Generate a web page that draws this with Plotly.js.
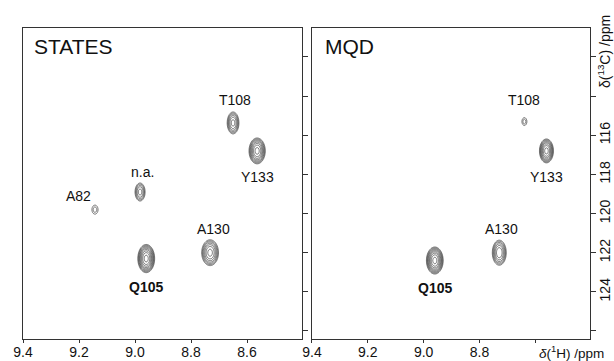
<!DOCTYPE html>
<html><head><meta charset="utf-8">
<script src="https://cdn.plot.ly/plotly-3.0.1.min.js"></script>
<style>html,body{margin:0;padding:0;background:#fff}#chart{width:614px;height:361px}</style>
</head><body><div id="chart"></div>
<script>
// ---- STATES panel peaks (1H ppm, 13C ppm, relative intensity, outer half-widths in ppm)
const statesLabels = ['T108', 'Y133', 'n.a.', 'A82', 'Q105', 'A130'];
const statesH = [8.650, 8.564, 8.982, 9.143, 8.960, 8.732];
const statesC = [115.37, 116.80, 118.90, 119.80, 122.30, 122.00];
const statesIntensity = [5.2, 9.5, 3.9, 1.6, 12.8, 7.0];
const statesWidthH = [0.021, 0.029, 0.018, 0.011, 0.030, 0.030];
const statesWidthC = [0.56, 0.66, 0.46, 0.23, 0.72, 0.66];

// ---- MQD panel peaks
const mqdLabels = ['T108', 'Y133', 'Q105', 'A130'];
const mqdH = [8.639, 8.560, 8.960, 8.729];
const mqdC = [115.30, 116.80, 122.40, 122.00];
const mqdIntensity = [1.6, 9.5, 12.8, 6.0];
const mqdWidthH = [0.009, 0.025, 0.030, 0.025];
const mqdWidthC = [0.20, 0.61, 0.69, 0.64];

// ---- axis ticks
const hTicks1 = [9.4, 9.2, 9.0, 8.8, 8.6];
const hTicks2 = [9.4, 9.2, 9.0, 8.8];
const hTicks2Unlabelled = [8.6];
const cTicksLabelled = [116, 118, 120, 122, 124];
const cTicksUnlabelled = [112, 114, 126];
const cTicksAll = [112, 114, 116, 118, 120, 122, 124, 126];

// ---- style / placement (pixel offsets of labels from peaks)
const labelShift = {
  states: {'T108': [2, 23], 'Y133': [0, -26], 'n.a.': [2, 20], 'A82': [-16, 14], 'Q105': [0, -28], 'A130': [3, 24]},
  mqd: {'T108': [0, 22], 'Y133': [0, -26], 'Q105': [0, -27], 'A130': [2, 24]}
};
const boldLabels = ['Q105'];
const FONT = 'Liberation Sans, Arial, sans-serif';
const INK = '#333';

function spectrum(H, C, I, WH, WC) {
  const xs = [], ys = [];
  for (let x = 8.38; x <= 9.42; x += 0.0025) xs.push(+x.toFixed(4));
  for (let y = 110.3; y <= 126.7; y += 0.04) ys.push(+y.toFixed(3));
  const pk = H.map((h, k) => {
    const L = Math.log(I[k]);
    return {h: h, c: C[k], a: I[k], sx: WH[k] / Math.sqrt(2 * L), sy: WC[k] / Math.sqrt(2 * L)};
  });
  const z = ys.map(y => xs.map(x => {
    let s = 1e-6;
    for (const p of pk) {
      const dx = (x - p.h) / p.sx, dy = (y - p.c) / p.sy;
      const e = 0.5 * (dx * dx + dy * dy);
      if (e < 30) s += p.a * Math.exp(-e);
    }
    return Math.log(s);
  }));
  return {x: xs, y: ys, z: z};
}

function contourTrace(sp, xa, ya) {
  return {
    type: 'contour', x: sp.x, y: sp.y, z: sp.z, xaxis: xa, yaxis: ya,
    autocontour: false,
    contours: {start: 0, end: 3, size: 0.3, coloring: 'lines'},
    colorscale: [[0, '#3c3c3c'], [1, '#3c3c3c']], showscale: false,
    line: {width: 0.7, smoothing: 1}, hoverinfo: 'skip'
  };
}

const sp1 = spectrum(statesH, statesC, statesIntensity, statesWidthH, statesWidthC);
const sp2 = spectrum(mqdH, mqdC, mqdIntensity, mqdWidthH, mqdWidthC);

function peakLabels(labels, H, C, xref, yref, shifts) {
  return labels.map((t, k) => ({
    text: boldLabels.includes(t) ? '<b>' + t + '</b>' : t,
    x: H[k], y: C[k], xref: xref, yref: yref, showarrow: false,
    xshift: shifts[t][0], yshift: shifts[t][1],
    font: {family: FONT, size: 14, color: '#111'}
  }));
}

const xBase = {
  range: [9.4, 8.404], showgrid: false, zeroline: false, showline: true, mirror: true,
  linecolor: INK, linewidth: 1, ticks: 'outside', ticklen: 3, tickcolor: INK, tickwidth: 1,
  ticklabelstandoff: -3, tickformat: '.1f',
  tickfont: {family: FONT, size: 14, color: '#111'}
};
const yBase = {
  range: [126.41, 110.52], showgrid: false, zeroline: false, showline: true, mirror: true,
  linecolor: INK, linewidth: 1, ticks: 'outside', ticklen: 5, tickcolor: INK, tickwidth: 1,
  ticklabelstandoff: -3, side: 'right', tickangle: -90,
  tickfont: {family: FONT, size: 14, color: '#111'}
};

const layout = {
  width: 614, height: 361,
  margin: {l: 23, r: 24, t: 28, b: 22},
  paper_bgcolor: '#fff', plot_bgcolor: '#fff',
  showlegend: false,
  xaxis: Object.assign({}, xBase, {domain: [0, 0.492], anchor: 'y', tickmode: 'array', tickvals: hTicks1}),
  yaxis: Object.assign({}, yBase, {domain: [0, 1], anchor: 'x', tickmode: 'array', tickvals: cTicksAll,
    showticklabels: false}),
  xaxis2: Object.assign({}, xBase, {domain: [0.5097, 1], anchor: 'y2', tickmode: 'array', tickvals: hTicks2,
    minor: {tickmode: 'array', tickvals: hTicks2Unlabelled, ticks: 'outside', ticklen: 3, tickcolor: INK, tickwidth: 1, showgrid: false}}),
  yaxis2: Object.assign({}, yBase, {domain: [0, 1], anchor: 'x2', tickmode: 'array', tickvals: cTicksLabelled,
    minor: {tickmode: 'array', tickvals: cTicksUnlabelled, ticks: 'outside', ticklen: 5, tickcolor: INK, tickwidth: 1, showgrid: false}}),
  annotations: [].concat(
    peakLabels(statesLabels, statesH, statesC, 'x', 'y', labelShift.states),
    peakLabels(mqdLabels, mqdH, mqdC, 'x2', 'y2', labelShift.mqd),
    [
      {text: 'STATES', xref: 'x domain', yref: 'y domain', x: 0.033, y: 0.985, xanchor: 'left', yanchor: 'top',
       showarrow: false, font: {family: FONT, size: 21, color: '#111'}},
      {text: 'MQD', xref: 'x2 domain', yref: 'y2 domain', x: 0.04, y: 0.985, xanchor: 'left', yanchor: 'top',
       showarrow: false, font: {family: FONT, size: 21, color: '#111'}},
      {text: '<i>δ</i>(<sup>1</sup>H) /ppm', xref: 'paper', yref: 'paper', x: (537 - 23) / 567, y: -0.006,
       xanchor: 'left', yanchor: 'top', showarrow: false, font: {family: FONT, size: 13.5, color: '#111'}},
      {text: 'δ(<sup>13</sup>C) /ppm', xref: 'paper', yref: 'paper', x: (604 - 23) / 567, y: 1 - (52 - 28) / 311,
       xanchor: 'center', yanchor: 'middle', textangle: -90, showarrow: false,
       font: {family: FONT, size: 14, color: '#111'}}
    ]
  )
};

Plotly.newPlot('chart', [contourTrace(sp1, 'x', 'y'), contourTrace(sp2, 'x2', 'y2')], layout,
  {staticPlot: true, displayModeBar: false});
</script>
</body></html>
